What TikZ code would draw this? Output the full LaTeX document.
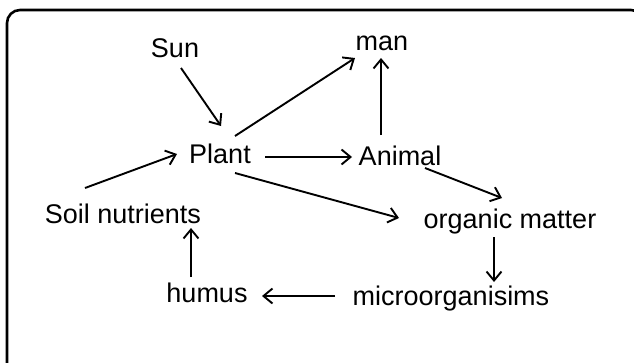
\documentclass[tikz,border=0pt]{standalone}
\usepackage{fontspec}
\setmainfont{Liberation Sans}
\usetikzlibrary{arrows.meta}
\begin{document}
\begin{tikzpicture}[x=1pt,y=-1pt,
  lbl/.style={anchor=base,inner sep=0pt,font=\fontsize{27}{30}\selectfont},
  arr/.style={line width=1.9pt,-{Straight Barb[length=9pt,width=15pt,line width=1.9pt]}}]
\useasboundingbox (0,0) rectangle (634,362);
\clip (0,0) rectangle (634,362);
\draw[line width=2.6pt,rounded corners=13pt] (7,380) -- (7,10) -- (644,10) -- (644,380);
\node[lbl] (sun) at (175,57) {Sun};
\node[lbl] (man) at (382,50) {man};
\node[lbl] (plant) at (220,163) {Plant};
\node[lbl] (animal) at (400,165) {Animal};
\node[lbl] (soil) at (123,223) {Soil nutrients};
\node[lbl] (organic) at (510,228) {organic matter};
\node[lbl] (humus) at (207,302) {humus};
\node[lbl] (micro) at (451,305) {microorganisims};
\draw[arr] ([shift={(6,11)}]sun.base) -- ([shift={(1,-37)}]plant.base);
\draw[arr] ([shift={(15,-27)}]plant.base) -- ([shift={(-27,8)}]man.base);
\draw[arr] ([shift={(-19,-30)}]animal.base) -- ([shift={(-1,8)}]man.base);
\draw[arr] ([shift={(45,-6)}]plant.base) -- ([shift={(-48,-8)}]animal.base);
\draw[arr] ([shift={(-38,-35)}]soil.base) -- ([shift={(-43,-9)}]plant.base);
\draw[arr] ([shift={(15,10)}]plant.base) -- ([shift={(-111,-10)}]organic.base);
\draw[arr] ([shift={(25,3)}]animal.base) -- ([shift={(-8,-30)}]organic.base);
\draw[arr] ([shift={(-16,9)}]organic.base) -- ([shift={(43,-23)}]micro.base);
\draw[arr] ([shift={(-116,-9)}]micro.base) -- ([shift={(55,-6)}]humus.base);
\draw[arr] ([shift={(-16,-25)}]humus.base) -- ([shift={(68,5)}]soil.base);
\end{tikzpicture}
\end{document}
